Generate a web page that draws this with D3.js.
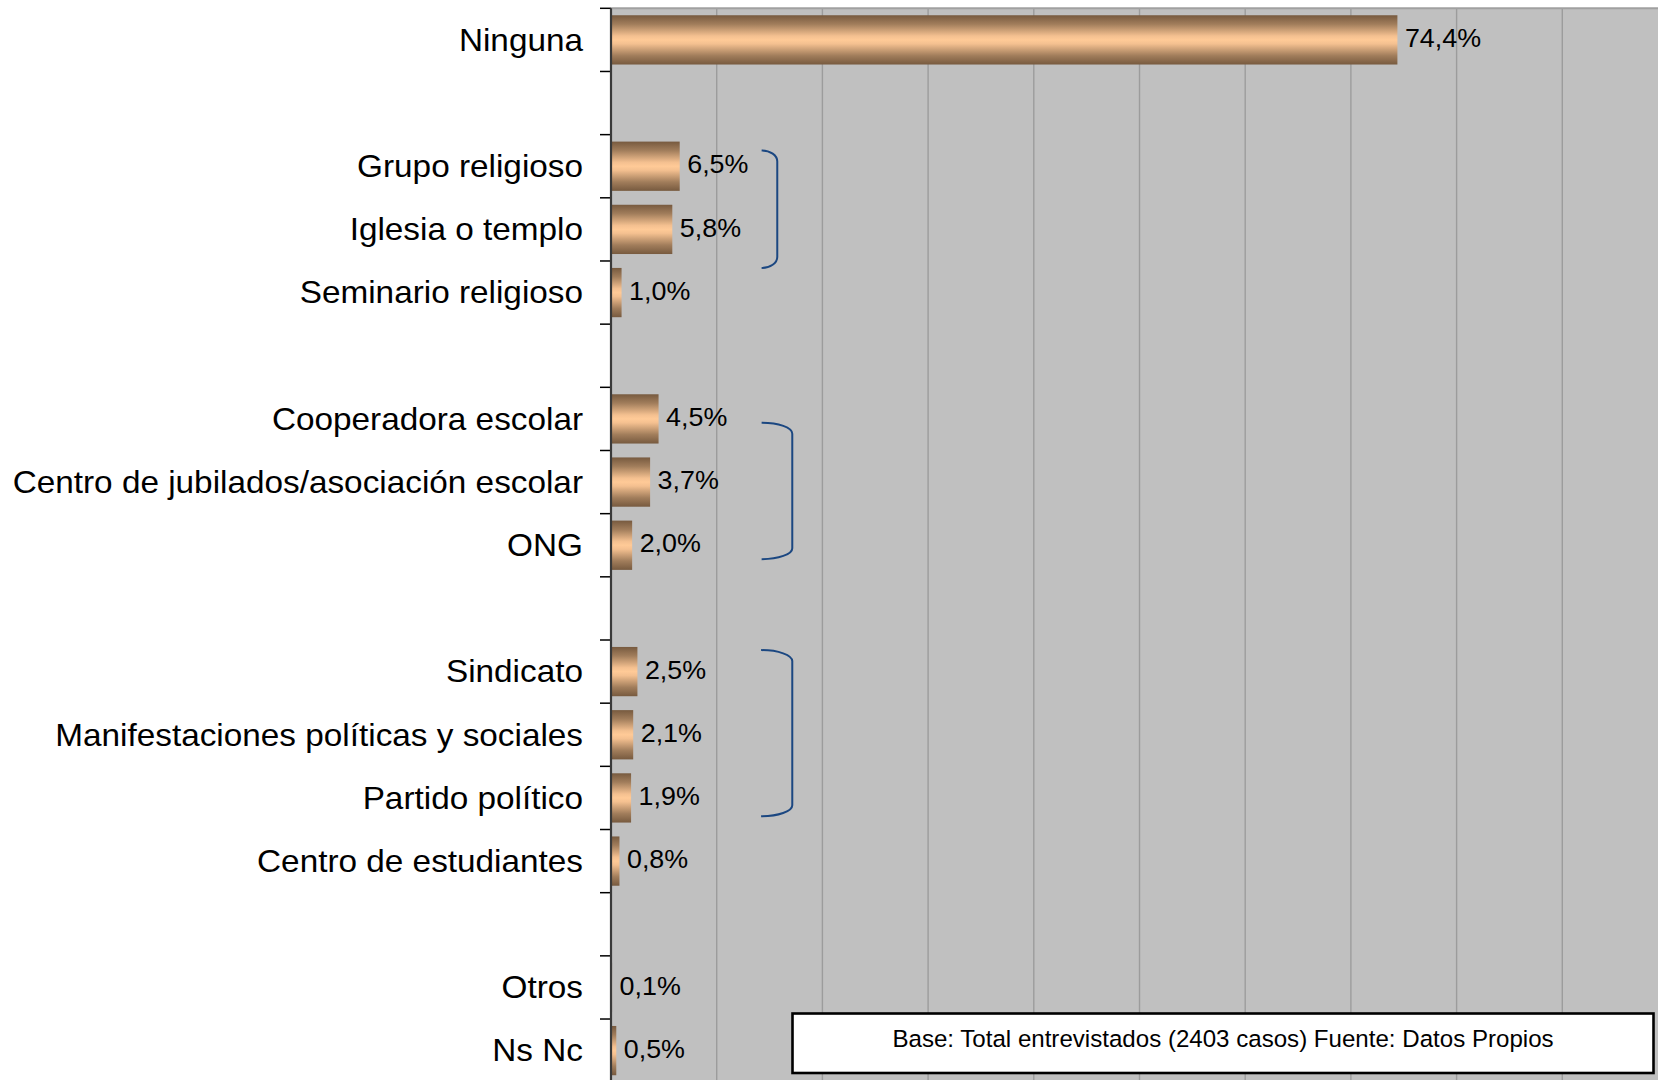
<!DOCTYPE html>
<html>
<head>
<meta charset="utf-8">
<script src="https://cdn.jsdelivr.net/npm/d3@7"></script>
<style>
  html, body { margin: 0; padding: 0; background: #ffffff; overflow: hidden; }
  svg { display: block; }
</style>
</head>
<body>
<svg id="chart" width="1658" height="1080"></svg>
<script>
// ---- data ----
const categories = [
  "Ninguna", "",
  "Grupo religioso", "Iglesia o templo", "Seminario religioso", " ",
  "Cooperadora escolar", "Centro de jubilados/asociación escolar", "ONG", "  ",
  "Sindicato", "Manifestaciones políticas y sociales", "Partido político", "Centro de estudiantes", "   ",
  "Otros", "Ns Nc"
];
const values = [
  74.4, null,
  6.5, 5.8, 1.0, null,
  4.5, 3.7, 2.0, null,
  2.5, 2.1, 1.9, 0.8, null,
  0.1, 0.5
];
const valueLabels = [
  "74,4%", "",
  "6,5%", "5,8%", "1,0%", "",
  "4,5%", "3,7%", "2,0%", "",
  "2,5%", "2,1%", "1,9%", "0,8%", "",
  "0,1%", "0,5%"
];
const xTicks = [0, 10, 20, 30, 40, 50, 60, 70, 80, 90, 100];
// brackets: [start position, end position] in category-slot units, [start x, vertical x] in %
const bracketStart = [2.25, 6.56, 10.16];
const bracketEnd = [4.11, 8.72, 12.79];
const bracketX0 = [14.25, 14.25, 14.2];
const bracketX1 = [15.73, 17.15, 17.15];
const footnote = "Base: Total entrevistados (2403 casos) Fuente: Datos Propios";

// ---- layout ----
const W = 1658, H = 1080;
const plotLeft = 611, plotRight = 1668, plotTop = 8.3, plotBottom = 8.3 + 63.17 * categories.length;
const stretch = 1.075;
const FONT = "'Liberation Sans', Arial, sans-serif";

const svg = d3.select("#chart");
const x = d3.scaleLinear().domain([0, 100]).range([plotLeft, plotRight]);
const y = d3.scaleBand().domain(categories).range([plotTop, plotBottom]).paddingInner(0.22).paddingOuter(0.11);
const ySlot = d3.scaleLinear().domain([0, categories.length]).range([plotTop, plotBottom]);

const defs = svg.append("defs");
const grad = defs.append("linearGradient").attr("id", "barGrad")
  .attr("x1", 0).attr("y1", 0).attr("x2", 0).attr("y2", 1);
[[0, "#775a3f"], [0.18, "#a17d5b"], [0.42, "#f4c090"], [0.5, "#ffca97"], [0.58, "#f4c090"], [0.82, "#a17d5b"], [1, "#775a3f"]]
  .forEach(([o, c]) => grad.append("stop").attr("offset", o).attr("stop-color", c));

// plot background
svg.append("rect")
  .attr("x", plotLeft).attr("y", plotTop)
  .attr("width", plotRight - plotLeft).attr("height", plotBottom - plotTop)
  .attr("fill", "#c0c0c0");

// gridlines
svg.append("g").selectAll("line").data(xTicks.slice(1)).join("line")
  .attr("x1", d => x(d)).attr("x2", d => x(d))
  .attr("y1", plotTop).attr("y2", plotBottom)
  .attr("stroke", "#9c9c9c").attr("stroke-width", 1.4);

// top border
svg.append("line")
  .attr("x1", plotLeft).attr("x2", plotRight)
  .attr("y1", plotTop).attr("y2", plotTop)
  .attr("stroke", "#a0a0a0").attr("stroke-width", 2);

// bars
const barData = categories.map((c, i) => ({ c, v: values[i], label: valueLabels[i] })).filter(d => d.v !== null);
svg.append("g").selectAll("rect").data(barData).join("rect")
  .attr("x", x(0))
  .attr("y", d => y(d.c))
  .attr("width", d => x(d.v) - x(0))
  .attr("height", y.bandwidth())
  .attr("fill", "url(#barGrad)");

// value labels
svg.append("g").selectAll("text").data(barData).join("text")
  .attr("transform", d => `translate(${x(d.v) + 7.5},${y(d.c) + y.bandwidth() / 2}) scale(${stretch},1)`)
  .attr("dy", "0.29em")
  .attr("font-family", FONT)
  .attr("font-size", 25)
  .attr("fill", "#000")
  .text(d => d.label);

// y axis
const yAxisG = svg.append("g").attr("transform", `translate(${plotLeft},0)`);
yAxisG.selectAll("line.tick").data(d3.range(categories.length + 1)).join("line")
  .attr("class", "tick")
  .attr("x1", -11).attr("x2", 0)
  .attr("y1", d => ySlot(d)).attr("y2", d => ySlot(d))
  .attr("stroke", "#000").attr("stroke-width", 1.5);
yAxisG.append("line")
  .attr("x1", 0).attr("x2", 0).attr("y1", plotTop).attr("y2", plotBottom)
  .attr("stroke", "#3a3a3a").attr("stroke-width", 2.2);
yAxisG.selectAll("text").data(categories).join("text")
  .attr("transform", d => `translate(-28,${y(d) + y.bandwidth() / 2}) scale(${stretch},1)`)
  .attr("dy", "0.35em")
  .attr("text-anchor", "end")
  .attr("font-family", FONT)
  .attr("font-size", 31)
  .attr("fill", "#000")
  .text(d => d.trim());

// brackets
const brackets = bracketStart.map((s, i) => ({ s, e: bracketEnd[i], x0: bracketX0[i], x1: bracketX1[i] }));
const ry = 11;
svg.append("g").selectAll("path").data(brackets).join("path")
  .attr("d", d => {
    const X0 = x(d.x0), X1 = x(d.x1), Y0 = ySlot(d.s), Y1 = ySlot(d.e);
    const rx = X1 - X0;
    return `M${X0},${Y0} A${rx},${ry} 0 0 1 ${X1},${Y0 + ry} L${X1},${Y1 - ry} A${rx},${ry} 0 0 1 ${X0},${Y1}`;
  })
  .attr("fill", "none")
  .attr("stroke", "#1b4781")
  .attr("stroke-width", 2);

// footnote box
const box = svg.append("g");
box.append("rect")
  .attr("x", 792.5).attr("y", 1013.5).attr("width", 861).attr("height", 59.5)
  .attr("fill", "#fff").attr("stroke", "#000").attr("stroke-width", 2.6);
box.append("text")
  .attr("x", (792.5 + 1653.5) / 2).attr("y", 1047)
  .attr("text-anchor", "middle")
  .attr("font-family", FONT)
  .attr("font-size", 24.1)
  .attr("fill", "#000")
  .text(footnote);
</script>
</body>
</html>
